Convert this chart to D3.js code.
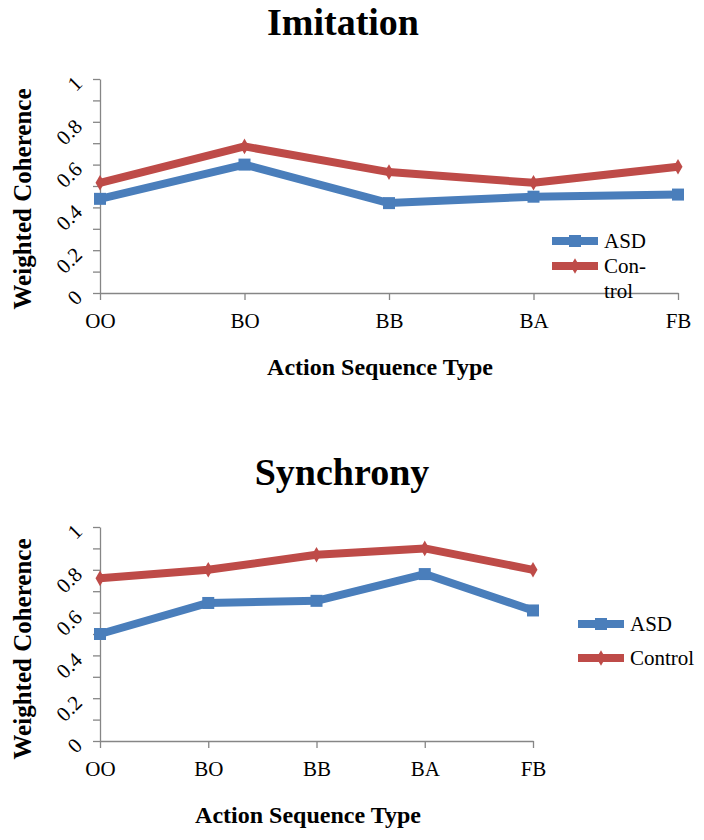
<!DOCTYPE html>
<html>
<head>
<meta charset="utf-8">
<script src="https://cdn.jsdelivr.net/npm/d3@7"></script>
<style>
  body { margin: 0; background: #fff; }
  svg { display: block; }
  svg text { font-family: "Liberation Serif", "Times New Roman", serif !important; }
</style>
</head>
<body>
<svg id="chart" width="704" height="840"></svg>
<script>
const categories = ["OO", "BO", "BB", "BA", "FB"];
const seriesNames = ["ASD", "Control"];
const imitationASD = [0.44, 0.60, 0.42, 0.45, 0.46];
const imitationControl = [0.515, 0.685, 0.565, 0.515, 0.59];
const synchronyASD = [0.50, 0.645, 0.655, 0.78, 0.61];
const synchronyControl = [0.76, 0.80, 0.87, 0.90, 0.80];
const yTickValues = [0, 0.1, 0.2, 0.3, 0.4, 0.5, 0.6, 0.7, 0.8, 0.9, 1];
const yTickLabels = ["0", "", "0.2", "", "0.4", "", "0.6", "", "0.8", "", "1"];

const colors = { ASD: "#4A7EBB", Control: "#BE4B48" };
const axisColor = "#868686";
const svg = d3.select("#chart");

function drawPanel(cfg) {
  const g = svg.append("g");
  const x = d3.scalePoint().domain(categories).range([cfg.x0, cfg.x1]).padding(0);
  const y = d3.scaleLinear().domain([0, 1]).range([cfg.yBottom, cfg.yTop]);

  // title
  g.append("text").attr("x", cfg.titleX).attr("y", cfg.titleY)
    .attr("text-anchor", "middle").attr("font-weight", "bold")
    .attr("font-size", 38).attr("fill", "#000").text(cfg.title);

  // y axis
  const ya = g.append("g").attr("transform", `translate(${cfg.x0},0)`)
    .call(d3.axisLeft(y).tickValues(yTickValues).tickSize(7).tickSizeOuter(0)
      .tickFormat((d, i) => yTickLabels[i]));
  ya.attr("font-family", null);
  ya.select(".domain").attr("stroke", axisColor).attr("stroke-width", 1.3);
  ya.selectAll(".tick line").attr("stroke", axisColor).attr("stroke-width", 1.3);
  ya.selectAll(".tick text")
    .attr("x", null).attr("dy", null)
    .attr("font-size", 21).attr("fill", "#000")
    .attr("text-anchor", "end")
    .attr("dominant-baseline", "middle")
    .attr("transform", "translate(-20,2) rotate(-45)");

  // x axis
  const xa = g.append("g").attr("transform", `translate(0,${cfg.yBottom})`)
    .call(d3.axisBottom(x).tickSize(7).tickSizeOuter(0));
  xa.attr("font-family", null);
  xa.select(".domain").attr("stroke", axisColor).attr("stroke-width", 1.3);
  xa.selectAll(".tick line").attr("stroke", axisColor).attr("stroke-width", 1.3);
  xa.selectAll(".tick text").attr("font-size", 21).attr("fill", "#000")
    .attr("y", 0).attr("dy", null).attr("transform", "translate(0,35)");

  // axis titles
  g.append("text").attr("x", cfg.xTitleX).attr("y", cfg.xTitleY)
    .attr("text-anchor", "middle").attr("font-weight", "bold")
    .attr("font-size", 24).attr("fill", "#000").text("Action Sequence Type");
  g.append("text")
    .attr("transform", `translate(31,${cfg.yTitleY}) rotate(-90)`)
    .attr("text-anchor", "middle").attr("font-weight", "bold")
    .attr("font-size", 25).attr("fill", "#000").text("Weighted Coherence");

  const line = d3.line().x((d, i) => x(categories[i])).y(d => y(d));
  const series = [
    { name: "ASD", values: cfg.asd },
    { name: "Control", values: cfg.control }
  ];
  series.forEach(s => {
    g.append("path").datum(s.values).attr("d", line)
      .attr("fill", "none").attr("stroke", colors[s.name])
      .attr("stroke-width", 8).attr("stroke-linejoin", "round");
    const pts = g.selectAll(null).data(s.values).enter();
    if (s.name === "ASD") {
      pts.append("rect")
        .attr("x", (d, i) => x(categories[i]) - 6).attr("y", d => y(d) - 6)
        .attr("width", 12).attr("height", 12).attr("fill", colors.ASD);
    } else {
      pts.append("path")
        .attr("d", d3.symbol().type(d3.symbolDiamond).size(70))
        .attr("transform", (d, i) => `translate(${x(categories[i])},${y(d)})`)
        .attr("fill", colors.Control);
    }
  });

  // legend
  cfg.legend.forEach((item) => {
    const ly = item.y;
    g.append("line").attr("x1", cfg.legendX).attr("x2", cfg.legendX + 46)
      .attr("y1", ly).attr("y2", ly).attr("stroke", colors[item.name]).attr("stroke-width", 8);
    if (item.name === "ASD") {
      g.append("rect").attr("x", cfg.legendX + 17).attr("y", ly - 6)
        .attr("width", 12).attr("height", 12).attr("fill", colors.ASD);
    } else {
      g.append("path").attr("d", d3.symbol().type(d3.symbolDiamond).size(70))
        .attr("transform", `translate(${cfg.legendX + 23},${ly})`).attr("fill", colors.Control);
    }
    const t = g.append("text").attr("x", cfg.legendX + 52).attr("y", ly + 7)
      .attr("font-size", 21).attr("fill", "#000");
    item.lines.forEach((l, j) => {
      t.append("tspan").attr("x", cfg.legendX + 52).attr("dy", j === 0 ? 0 : 25).text(l);
    });
  });
}

drawPanel({
  title: "Imitation", titleX: 343, titleY: 35,
  x0: 100, x1: 678, yTop: 79, yBottom: 293,
  xTitleX: 380, xTitleY: 375, yTitleY: 199,
  asd: imitationASD, control: imitationControl,
  legendX: 552,
  legend: [{ name: "ASD", y: 241, lines: ["ASD"] }, { name: "Control", y: 266, lines: ["Con-", "trol"] }]
});

drawPanel({
  title: "Synchrony", titleX: 342, titleY: 485,
  x0: 100, x1: 533, yTop: 527, yBottom: 741,
  xTitleX: 308, xTitleY: 823, yTitleY: 649,
  asd: synchronyASD, control: synchronyControl,
  legendX: 578,
  legend: [{ name: "ASD", y: 624, lines: ["ASD"] }, { name: "Control", y: 658, lines: ["Control"] }]
});
</script>
</body>
</html>
